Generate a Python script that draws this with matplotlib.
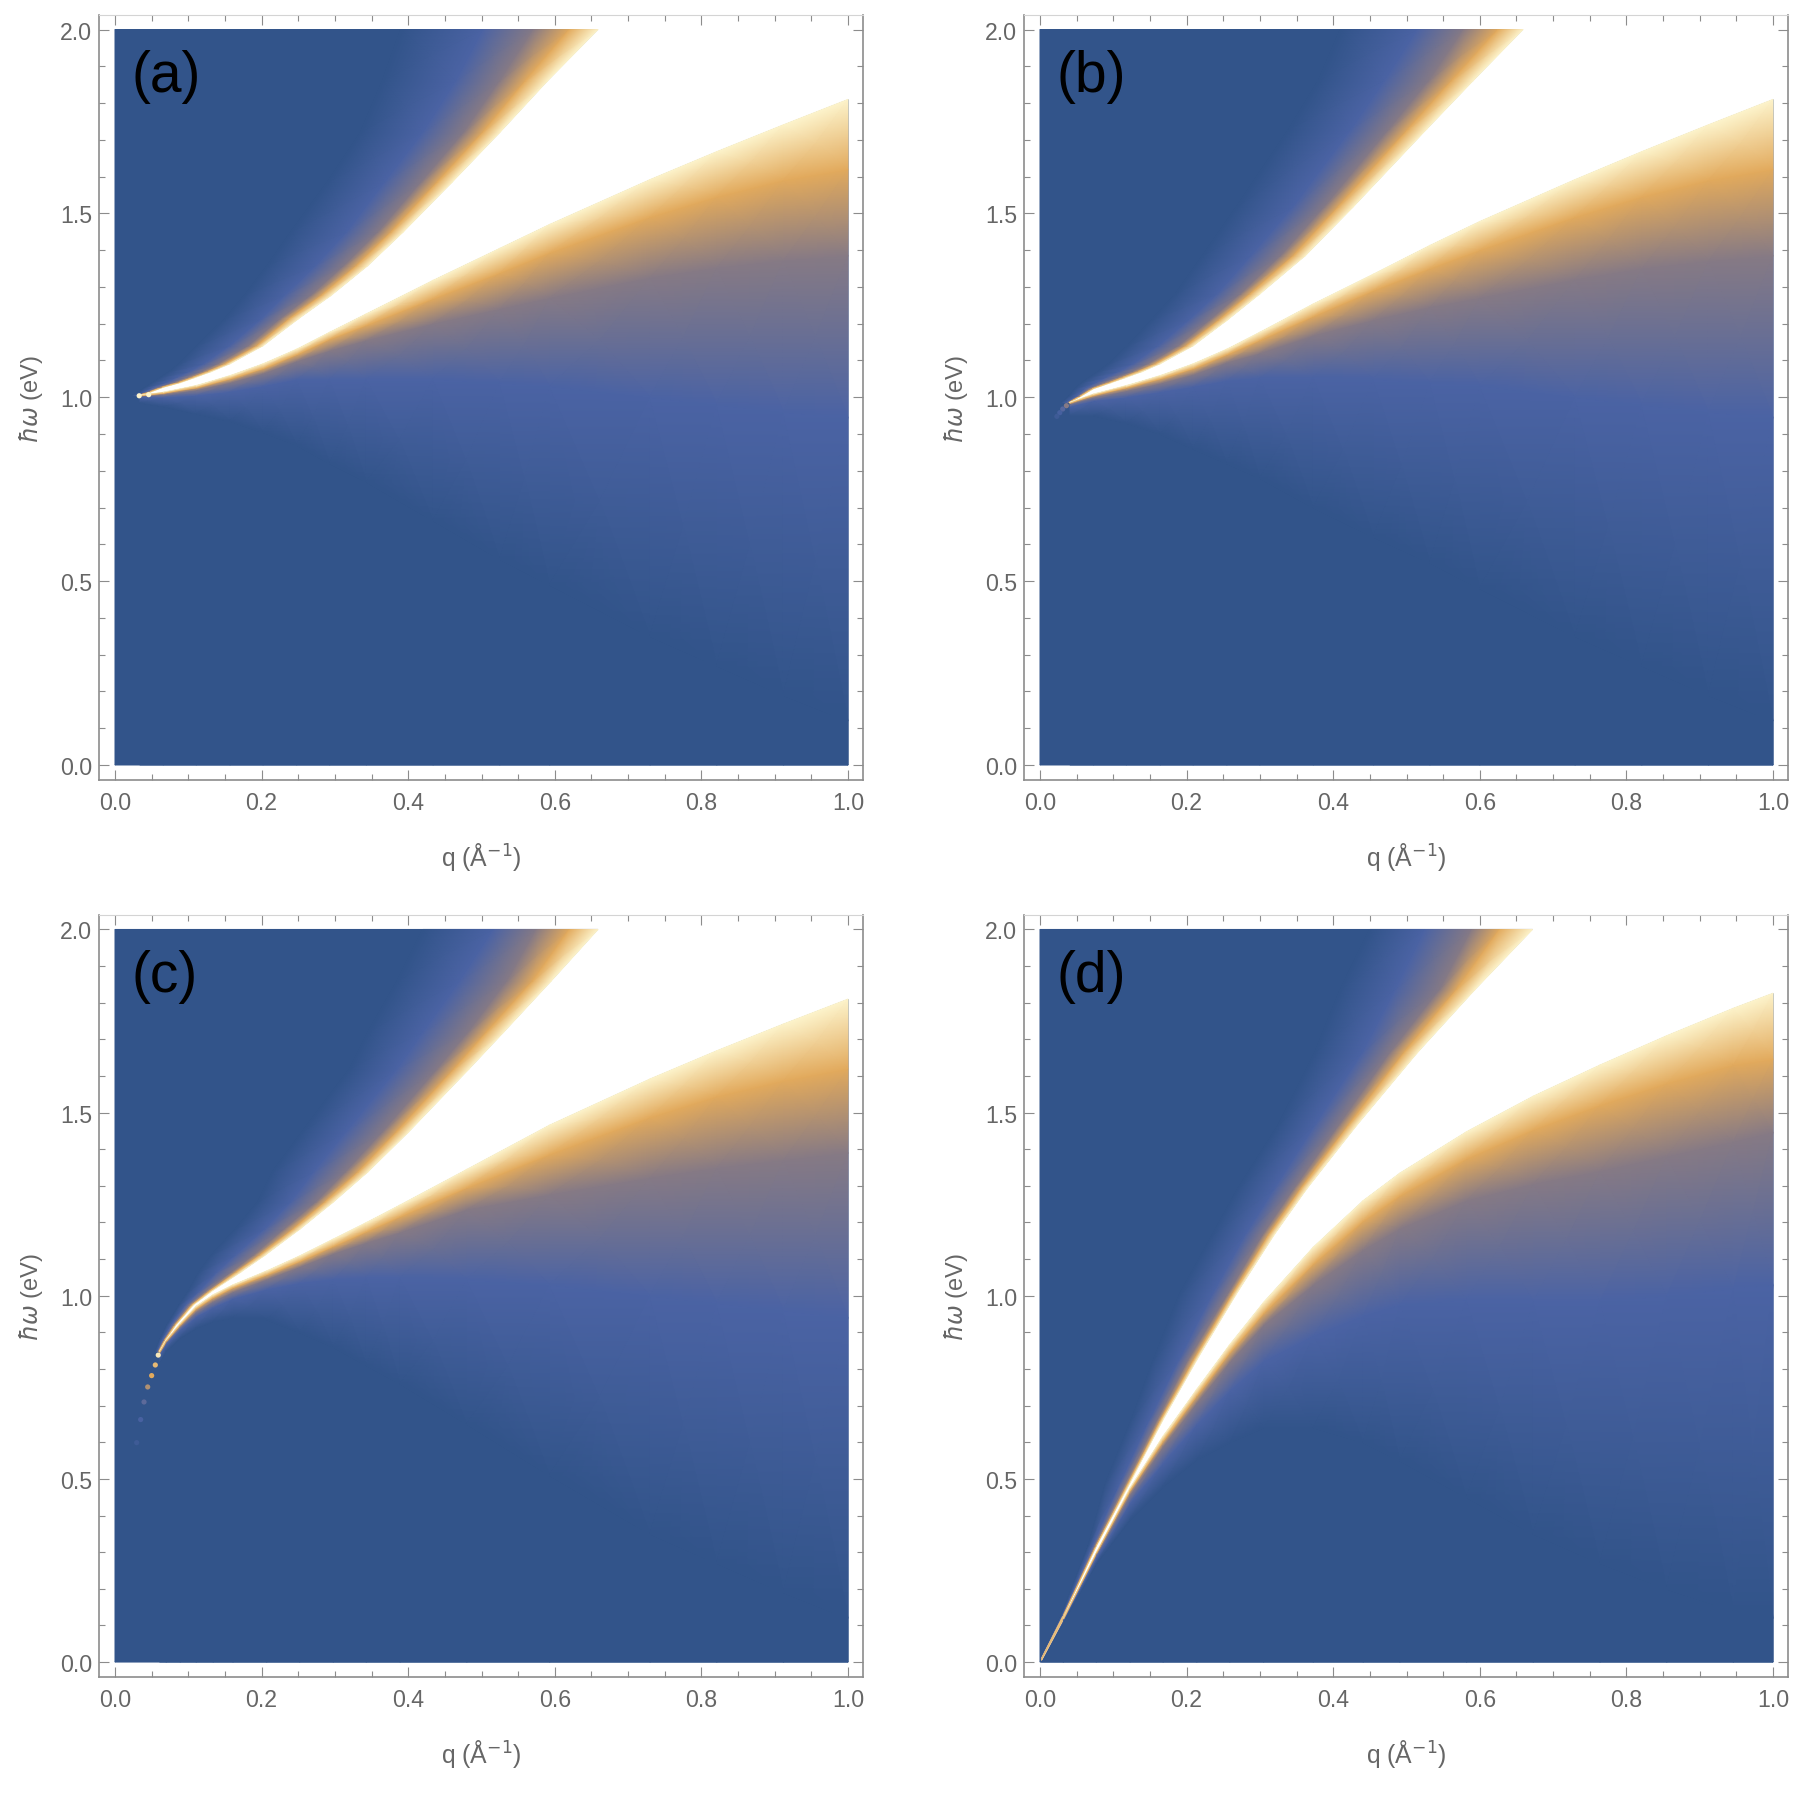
import numpy as np
import matplotlib
matplotlib.use('Agg')
import matplotlib.pyplot as plt
from matplotlib.colors import LinearSegmentedColormap
from matplotlib.ticker import MultipleLocator

plt.rcParams['font.family'] = ['Liberation Sans', 'DejaVu Sans']

# intensity levels traced in each panel (dark, blue, grey, orange, cream)
levels = [0.0, 0.25, 0.5, 0.72, 1.0]
level_colors = ['#32548A', '#4B63A4', '#857A85', '#E2AA5C', '#FDF4CC']

panel_names = ['(a)', '(b)', '(c)', '(d)']
q_ticks = [0.0, 0.2, 0.4, 0.6, 0.8, 1.0]
w_ticks = [0.0, 0.5, 1.0, 1.5, 2.0]

# upper branch: for each hbar*omega, q of each level
a_up_w = [1.005, 1.015, 1.027, 1.04, 1.054, 1.07, 1.091, 1.14, 1.213, 1.277, 1.358, 1.449, 1.585, 1.72, 1.86, 2.0]
a_up_edge = [.034, .05, .066, .09, .11, .132, .157, .202, .25, .295, .345, .393, .46, .525, .59, .659]
a_up_orange = [.033, .048, .064, .087, .106, .127, .151, .194, .238, .282, .33, .377, .44, .502, .56, .62]
a_up_grey = [.032, .046, .061, .082, .1, .12, .142, .183, .226, .268, .313, .359, .418, .476, .525, .571]
a_up_blue = [.03, .042, .054, .072, .086, .103, .122, .157, .2, .232, .274, .316, .368, .42, .465, .502]
a_up_dark = [.024, .033, .042, .052, .063, .075, .088, .112, .15, .177, .208, .24, .29, .335, .365, .39]
# lower branch: for each q, hbar*omega of each level
a_lo_q = [.034, .066, .111, .157, .202, .248, .293, .343, .434, .525, .593, .73, .821, .912, 1.0]
a_lo_edge = [1.005, 1.014, 1.032, 1.059, 1.091, 1.131, 1.177, 1.227, 1.318, 1.405, 1.47, 1.592, 1.668, 1.741, 1.81]
a_lo_orange = [1.004, 1.011, 1.026, 1.05, 1.078, 1.116, 1.158, 1.196, 1.268, 1.338, 1.393, 1.49, 1.545, 1.59, 1.62]
a_lo_grey = [1.003, 1.008, 1.02, 1.04, 1.065, 1.098, 1.127, 1.155, 1.2, 1.24, 1.27, 1.325, 1.352, 1.372, 1.385]
a_lo_blue = [1.0, 1.0, 1.005, 1.015, 1.03, 1.048, 1.05, 1.05, 1.05, 1.04, 1.03, 1.0, .98, .96, .945]
a_lo_dark = [.985, .975, .955, .935, .905, .87, .82, .77, .665, .56, .49, .35, .27, .19, .12]
a_dots_q = [.033, .046]
a_dots_w = [1.004, 1.007]
a_dots_t = [1.0, 1.0]

b_up_w = [.986, 1.003, 1.023, 1.04, 1.054, 1.07, 1.091, 1.14, 1.209, 1.281, 1.385, 1.517, 1.73, 1.861, 2.0]
b_up_edge = [.041, .056, .073, .098, .118, .14, .164, .209, .255, .3, .362, .427, .528, .591, .659]
b_up_orange = [.04, .055, .071, .095, .113, .134, .158, .2, .244, .287, .346, .407, .503, .562, .625]
b_up_grey = [.039, .053, .068, .089, .107, .127, .149, .19, .232, .274, .329, .388, .477, .531, .578]
b_up_blue = [.037, .05, .062, .078, .092, .109, .128, .162, .203, .242, .288, .345, .425, .47, .515]
b_up_dark = [.03, .04, .048, .058, .068, .08, .094, .12, .152, .185, .222, .268, .34, .38, .41]
b_lo_q = [.041, .073, .118, .164, .209, .255, .3, .373, .455, .532, .6, .73, .821, .912, 1.0]
b_lo_edge = [.986, 1.009, 1.032, 1.059, 1.091, 1.131, 1.177, 1.254, 1.335, 1.413, 1.478, 1.592, 1.668, 1.741, 1.81]
b_lo_orange = [.984, 1.005, 1.026, 1.05, 1.078, 1.116, 1.155, 1.22, 1.29, 1.35, 1.40, 1.49, 1.545, 1.59, 1.62]
b_lo_grey = [.982, 1.0, 1.018, 1.038, 1.062, 1.095, 1.12, 1.168, 1.21, 1.245, 1.27, 1.32, 1.35, 1.37, 1.385]
b_lo_blue = [.975, .99, 1.0, 1.014, 1.028, 1.045, 1.053, 1.055, 1.05, 1.04, 1.032, 1.0, .98, .96, .945]
b_lo_dark = [.95, .95, .93, .9, .86, .82, .78, .7, .62, .55, .48, .35, .27, .19, .12]
b_dots_q = [.036, .031, .027, .023]
b_dots_w = [.977, .968, .958, .948]
b_dots_t = [.5, .3, .2, .12]

c_up_w = [.848, .879, .92, .975, 1.011, 1.065, 1.111, 1.183, 1.256, 1.338, 1.446, 1.619, 1.719, 1.859, 2.0]
c_up_edge = [.06, .069, .083, .107, .131, .172, .205, .253, .298, .345, .4, .483, .53, .595, .659]
c_up_orange = [.06, .068, .082, .105, .128, .166, .198, .244, .287, .332, .384, .463, .507, .57, .62]
c_up_grey = [.059, .067, .08, .102, .124, .16, .19, .232, .275, .315, .365, .44, .482, .535, .575]
c_up_blue = [.058, .065, .077, .097, .115, .14, .165, .205, .24, .271, .315, .385, .42, .47, .516]
c_up_dark = [.055, .061, .071, .088, .1, .115, .132, .165, .195, .215, .255, .32, .345, .385, .42]
c_lo_q = [.061, .07, .089, .111, .134, .161, .207, .252, .298, .343, .389, .48, .593, .73, .821, .912, 1.0]
c_lo_edge = [.848, .879, .925, .972, 1.003, 1.03, 1.068, 1.109, 1.155, 1.2, 1.248, 1.345, 1.466, 1.592, 1.669, 1.742, 1.81]
c_lo_orange = [.846, .876, .92, .965, .995, 1.022, 1.057, 1.094, 1.135, 1.175, 1.216, 1.295, 1.386, 1.487, 1.544, 1.587, 1.62]
c_lo_grey = [.844, .873, .915, .957, .985, 1.011, 1.045, 1.079, 1.115, 1.145, 1.173, 1.235, 1.276, 1.322, 1.349, 1.37, 1.39]
c_lo_blue = [.84, .868, .907, .943, .968, .992, 1.017, 1.035, 1.045, 1.05, 1.05, 1.045, 1.03, 1.0, .98, .96, .94]
c_lo_dark = [.82, .85, .885, .912, .93, .94, .935, .9, .86, .81, .76, .65, .51, .35, .27, .19, .12]
c_dots_q = [.059, .055, .05, .0446, .0396, .035, .0296]
c_dots_w = [.838, .811, .782, .751, .71, .662, .599]
c_dots_t = [.95, .78, .72, .6, .33, .22, .12]

d_up_w = [.009, .127, .317, .49, .662, .825, 1.002, 1.165, 1.292, 1.465, 1.664, 1.837, 2.0]
d_up_edge = [.002, .032, .077, .123, .168, .214, .267, .319, .364, .432, .515, .594, .672]
d_up_orange = [.002, .032, .0765, .121, .165, .21, .262, .312, .356, .421, .497, .569, .627]
d_up_grey = [.002, .0315, .075, .118, .161, .203, .256, .304, .347, .408, .478, .546, .589]
d_up_blue = [.0015, .031, .072, .11, .15, .19, .235, .28, .32, .375, .44, .485, .525]
d_up_dark = [.001, .029, .066, .09, .125, .155, .19, .235, .27, .325, .375, .41, .45]
d_lo_q = [.002, .032, .077, .123, .168, .214, .259, .305, .373, .441, .491, .582, .673, .764, .855, .946, 1.0]
d_lo_edge = [.005, .118, .299, .476, .617, .745, .867, .982, 1.133, 1.26, 1.335, 1.448, 1.545, 1.63, 1.71, 1.785, 1.826]
d_lo_orange = [.005, .118, .297, .468, .603, .727, .845, .952, 1.087, 1.204, 1.273, 1.374, 1.453, 1.52, 1.58, 1.63, 1.646]
d_lo_grey = [.005, .117, .293, .458, .589, .708, .82, .92, 1.03, 1.125, 1.183, 1.26, 1.305, 1.34, 1.38, 1.42, 1.446]
d_lo_blue = [.004, .115, .285, .435, .544, .648, .74, .82, .89, .945, .975, .99, .985, .985, 1.0, 1.02, 1.029]
d_lo_dark = [.003, .11, .27, .39, .48, .553, .6, .64, .64, .6, .55, .45, .35, .27, .2, .14, .12]

W, H = 1809, 1799
rects = [(99, 16, 863, 781), (1024, 16, 1788, 781),
         (99, 916, 863, 1678), (1024, 916, 1788, 1678)]
gray = '#666666'
frame = '#8c8c8c'

cmap = LinearSegmentedColormap.from_list('spec', list(zip(levels, level_colors)))


def draw_panel(ax, up, lo, dots=None):
    # dark background over the whole plot range
    ax.pcolormesh([0, 1], [0, 2], [[0.0, 0.0], [0.0, 0.0]], cmap=cmap, vmin=0, vmax=1,
                  shading='gouraud', zorder=1)

    # white gap between the two branches, runs a hair past the plot range to hide the border row
    up_w, up_edge = up[0], up[1]
    lo_q, lo_edge = lo[0], lo[1]
    gap_x = list(up_edge) + [up_edge[-1], 1.004, 1.004] + list(lo_q[::-1])
    gap_y = list(up_w) + [2.004, 2.004, lo_edge[-1]] + list(lo_edge[::-1])
    ax.fill(gap_x, gap_y, color='white', lw=0, zorder=2)

    # upper branch, columns run from the dark side to the edge
    X = np.array(up[1:][::-1]).T
    Y = np.tile(np.array(up_w)[:, None], (1, 5))
    C = np.tile(levels, (len(up_w), 1))
    ax.pcolormesh(X, Y, C, cmap=cmap, vmin=0, vmax=1, shading='gouraud', zorder=3)

    # lower branch, an extra dark row down to the bottom of the range
    n = len(lo_q)
    Y = np.column_stack([np.zeros(n)] + list(lo[1:][::-1]))
    X = np.tile(np.array(lo_q)[:, None], (1, 6))
    C = np.tile([levels[0]] + levels, (n, 1))
    ax.pcolormesh(X, Y, C, cmap=cmap, vmin=0, vmax=1, shading='gouraud', zorder=3)

    if dots is not None:
        ax.scatter(dots[0], dots[1], c=dots[2], cmap=cmap, vmin=0, vmax=1, s=14, lw=0, zorder=4)


fig = plt.figure(figsize=(W / 100, H / 100), dpi=100)

panels = [
    ((a_up_w, a_up_edge, a_up_orange, a_up_grey, a_up_blue, a_up_dark),
     (a_lo_q, a_lo_edge, a_lo_orange, a_lo_grey, a_lo_blue, a_lo_dark), (a_dots_q, a_dots_w, a_dots_t)),
    ((b_up_w, b_up_edge, b_up_orange, b_up_grey, b_up_blue, b_up_dark),
     (b_lo_q, b_lo_edge, b_lo_orange, b_lo_grey, b_lo_blue, b_lo_dark), (b_dots_q, b_dots_w, b_dots_t)),
    ((c_up_w, c_up_edge, c_up_orange, c_up_grey, c_up_blue, c_up_dark),
     (c_lo_q, c_lo_edge, c_lo_orange, c_lo_grey, c_lo_blue, c_lo_dark), (c_dots_q, c_dots_w, c_dots_t)),
    ((d_up_w, d_up_edge, d_up_orange, d_up_grey, d_up_blue, d_up_dark),
     (d_lo_q, d_lo_edge, d_lo_orange, d_lo_grey, d_lo_blue, d_lo_dark), None),
]

for i in range(4):
    x0, y0, x1, y1 = rects[i]
    ax = fig.add_axes([x0 / W, 1 - y1 / H, (x1 - x0) / W, (y1 - y0) / H])
    draw_panel(ax, *panels[i])

    ax.set_xlim(-16 / 733, 1 + 15 / 733)
    ax.set_ylim(-15 / 367.5, 2 + 14.5 / 367.5)
    ax.set_xticks(q_ticks)
    ax.set_yticks(w_ticks)
    ax.set_xticklabels(['%.1f' % t for t in q_ticks])
    ax.set_yticklabels(['%.1f' % t for t in w_ticks])
    ax.xaxis.set_minor_locator(MultipleLocator(0.05))
    ax.yaxis.set_minor_locator(MultipleLocator(0.1))
    ax.tick_params(which='major', direction='in', top=True, right=True, length=7, width=0.8,
                   color=frame, labelcolor=gray, labelsize=16.7)
    ax.tick_params(which='minor', direction='in', top=True, right=True, length=4, width=0.8, color=frame)
    ax.tick_params(axis='x', which='major', pad=8)
    ax.tick_params(axis='y', which='major', pad=5)
    for side in ['left', 'right', 'bottom']:
        ax.spines[side].set_color(frame)
        ax.spines[side].set_linewidth(1.2)
    ax.spines['top'].set_color('#d4d4d4')
    ax.spines['top'].set_linewidth(0.8)

    ax.set_xlabel('q (Å$^{-1}$)', color=gray, fontsize=17.8, va='center')
    ax.set_ylabel(r'$\hbar\omega$ (eV)', color=gray, fontsize=17, va='center')
    ax.xaxis.set_label_coords(0.5, -76 / (y1 - y0))
    ax.yaxis.set_label_coords(-68 / (x1 - x0), 0.5)

    ax.text(0.022, 1.832, panel_names[i], fontsize=41, color='black', ha='left', va='baseline', zorder=5)

fig.savefig('out.png', dpi=100)
